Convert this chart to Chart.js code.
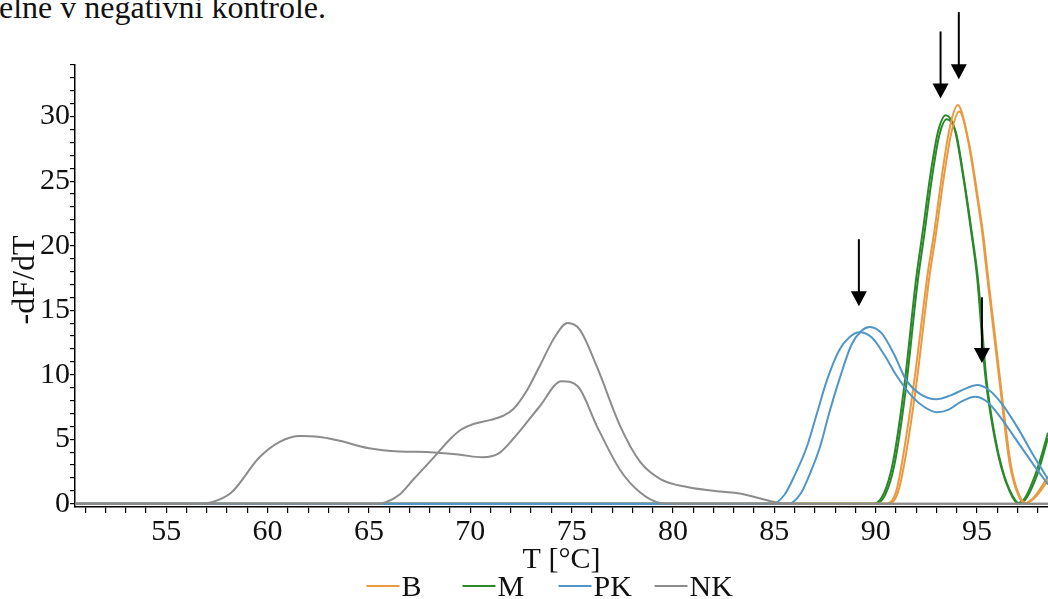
<!DOCTYPE html>
<html>
<head>
<meta charset="utf-8">
<script src="https://cdn.jsdelivr.net/npm/chart.js@4/dist/chart.umd.min.js"></script>
<style>
  html, body { margin: 0; padding: 0; background: #fff; }
  #wrap { position: relative; width: 1048px; height: 599px; overflow: hidden; }
  #caption {
    position: absolute; left: -1px; top: -9px;
    font-family: "Liberation Serif", serif; font-size: 32px; line-height: 32px;
    color: #111; white-space: nowrap;
  }
  #meltChart { position: absolute; left: 0; top: 0; }
</style>
</head>
<body>
<div id="wrap">
  <div id="caption">elne v negativni kontrole.</div>
  <canvas id="meltChart" width="1048" height="599"></canvas>
</div>
<script>
// melting curves, -dF/dT against temperature, two replicates per sample
var seriesNames = ["B", "M", "PK", "NK"];
var seriesColors = ["#e9993f", "#2a8a2a", "#5096c8", "#8c8c8c"];

var b1T = [50.5, 90.55, 91.0, 91.3, 91.9, 92.57, 92.9, 93.3, 93.66, 94.05, 94.55, 95.0, 95.24, 95.5, 96.1, 96.6, 97.0, 97.35, 97.8, 98.5];
var b1  = [0, 0, 0.9, 3.2, 9.5, 17.9, 21.2, 25.8, 29.2, 30.9, 28.2, 23.8, 21.2, 17.6, 9.6, 3.2, 0.8, 0.05, 0.5, 2.1];
var b2T = [50.5, 90.65, 91.08, 91.4, 92.0, 92.65, 92.98, 93.38, 93.74, 94.12, 94.62, 95.07, 95.31, 95.57, 96.17, 96.67, 97.07, 97.42, 97.87, 98.5];
var b2  = [0, 0, 0.8, 3.0, 9.2, 17.6, 21.0, 25.5, 28.8, 30.4, 27.8, 23.4, 20.8, 17.2, 9.2, 3.0, 0.7, 0.05, 0.5, 1.8];

var m1T = [50.5, 89.9, 90.4, 90.85, 91.4, 92.0, 92.33, 92.7, 93.07, 93.46, 93.9, 94.3, 94.7, 95.0, 95.4, 95.8, 96.2, 96.6, 97.0, 97.3, 97.95, 98.5];
var m1  = [0, 0, 0.8, 3.2, 9.0, 17.5, 21.2, 25.5, 28.8, 30.1, 29.0, 25.5, 21.2, 17.6, 10.0, 5.7, 2.8, 1.0, 0.05, 0.3, 2.6, 5.5];
var m2T = [50.5, 89.97, 90.47, 90.92, 91.47, 92.07, 92.4, 92.77, 93.13, 93.5, 93.95, 94.35, 94.76, 95.06, 95.46, 95.86, 96.26, 96.66, 97.07, 97.37, 98.0, 98.5];
var m2  = [0, 0, 0.7, 3.0, 8.7, 17.2, 20.9, 25.2, 28.5, 29.8, 28.8, 25.2, 20.8, 17.2, 9.7, 5.4, 2.6, 0.9, 0.05, 0.3, 2.4, 5.1];

var pk1T = [50.5, 84.9, 85.5, 86.0, 86.6, 87.1, 87.6, 88.2, 88.7, 89.2, 89.8, 90.4, 91.0, 91.8, 92.4, 93.0, 93.6, 94.2, 94.9, 95.5, 96.2, 97.0, 97.8, 98.5];
var pk1  = [0, 0, 0.7, 2.2, 4.4, 7.0, 9.6, 11.9, 12.9, 13.3, 12.9, 11.6, 10.0, 8.3, 7.5, 7.1, 7.3, 7.9, 8.3, 7.9, 6.6, 4.8, 3.0, 1.5];
var pk2T = [50.5, 85.7, 86.3, 86.8, 87.25, 87.7, 88.2, 88.8, 89.3, 89.7, 90.3, 90.9, 91.5, 92.2, 93.0, 93.7, 94.4, 95.0, 95.6, 96.2, 97.0, 97.8, 98.5];
var pk2  = [0, 0, 0.8, 2.5, 4.4, 7.0, 9.6, 12.3, 13.4, 13.7, 13.2, 11.6, 9.6, 8.5, 8.1, 8.4, 8.9, 9.2, 8.8, 7.8, 5.9, 3.7, 1.9];

var nk1T = [50.5, 56.5, 57.2, 58.2, 59.6, 60.6, 61.6, 62.5, 63.5, 65.0, 66.5, 68.0, 69.5, 70.6, 71.4, 72.1, 73.4, 74.5, 75.3, 76.25, 77.4, 78.4, 79.4, 80.0, 98.5];
var nk1  = [0, 0, 0.1, 0.85, 3.6, 4.8, 5.25, 5.2, 4.9, 4.3, 4.05, 4.0, 3.8, 3.6, 3.9, 5.0, 7.5, 9.5, 9.1, 6.0, 2.6, 0.85, 0.05, 0, 0];
var nk2T = [50.5, 65.3, 65.8, 66.5, 67.2, 68.2, 69.0, 69.5, 70.2, 71.0, 71.6, 72.1, 72.8, 73.4, 74.2, 74.8, 75.4, 76.25, 77.4, 78.4, 79.4, 80.7, 82.3, 83.3, 84.95, 85.5, 98.5];
var nk2  = [0, 0, 0.1, 0.7, 1.9, 3.6, 5.0, 5.7, 6.2, 6.5, 6.8, 7.3, 8.8, 10.6, 13.0, 14.0, 13.5, 10.6, 6.0, 3.2, 1.9, 1.3, 0.95, 0.8, 0.15, 0, 0];

// peak markers: temperature, arrow top and arrow tip in -dF/dT units
var arrowT   = [89.17, 93.2, 94.1, 95.24];
var arrowTop = [20.5, 36.6, 38.1, 16.0];
var arrowTip = [15.3, 31.4, 32.9, 10.9];

function pts(ts, vs) {
  return ts.map(function (t, i) { return { x: t, y: vs[i] }; });
}

function curve(ts, vs, idx) {
  return {
    label: seriesNames[idx],
    data: pts(ts, vs),
    borderColor: seriesColors[idx],
    borderWidth: 2,
    pointRadius: 0,
    fill: false,
    cubicInterpolationMode: "monotone"
  };
}

var serif = "'Liberation Serif', 'Times New Roman', serif";

// arrows pointing at the melting peaks
var arrowPlugin = {
  id: "peakArrows",
  afterDatasetsDraw: function (chart) {
    var ctx = chart.ctx, xs = chart.scales.x, ys = chart.scales.y;
    ctx.save();
    ctx.strokeStyle = "#000";
    ctx.fillStyle = "#000";
    ctx.lineWidth = 2;
    for (var i = 0; i < arrowT.length; i++) {
      var px = xs.getPixelForValue(arrowT[i]);
      var top = ys.getPixelForValue(arrowTop[i]);
      var tip = ys.getPixelForValue(arrowTip[i]);
      ctx.beginPath();
      ctx.moveTo(px, top);
      ctx.lineTo(px, tip - 12);
      ctx.stroke();
      ctx.beginPath();
      ctx.moveTo(px - 8, tip - 15);
      ctx.lineTo(px + 8, tip - 15);
      ctx.lineTo(px, tip);
      ctx.closePath();
      ctx.fill();
    }
    ctx.restore();
  }
};

// y title sits over the tick labels, legend is a row of line samples under the x title
var textPlugin = {
  id: "extraText",
  afterDraw: function (chart) {
    var ctx = chart.ctx, area = chart.chartArea;
    ctx.save();
    ctx.fillStyle = "#111";
    ctx.font = "32px " + serif;
    ctx.translate(26, 280);
    ctx.rotate(-Math.PI / 2);
    ctx.textAlign = "center";
    ctx.textBaseline = "middle";
    ctx.fillText("-dF/dT", 0, 0);
    ctx.restore();

    ctx.save();
    ctx.font = "30px " + serif;
    ctx.textBaseline = "middle";
    var cx = (area.left + area.right) / 2;
    var x0 = cx - 195;
    var y = 587;
    for (var i = 0; i < seriesNames.length; i++) {
      var x = x0 + i * 96;
      ctx.strokeStyle = seriesColors[i];
      ctx.lineWidth = 2;
      ctx.beginPath();
      ctx.moveTo(x, y - 1);
      ctx.lineTo(x + 33, y - 1);
      ctx.stroke();
      ctx.fillStyle = "#111";
      ctx.fillText(seriesNames[i], x + 35, y + 1);
    }
    ctx.restore();
  }
};

// one tick per whole unit between the axis limits
function intTicks(scale) {
  var ticks = [];
  for (var v = Math.ceil(scale.min); v <= Math.floor(scale.max); v++) {
    ticks.push({ value: v });
  }
  scale.ticks = ticks;
}

function everyFifth(v) {
  return v % 5 === 0 ? String(v) : "";
}

new Chart(document.getElementById("meltChart"), {
  type: "line",
  data: {
    datasets: [
      curve(nk1T, nk1, 3), curve(nk2T, nk2, 3),
      curve(pk1T, pk1, 2), curve(pk2T, pk2, 2),
      curve(b1T, b1, 0), curve(b2T, b2, 0),
      curve(m1T, m1, 1), curve(m2T, m2, 1)
    ]
  },
  options: {
    responsive: false,
    animation: false,
    layout: { padding: { top: 65, right: 0, left: 0, bottom: 0 } },
    plugins: { legend: { display: false }, tooltip: { enabled: false } },
    scales: {
      x: {
        type: "linear",
        min: 50.5,
        max: 98.5,
        afterBuildTicks: intTicks,
        afterFit: function (s) { s.height = 92; },
        ticks: {
          autoSkip: false,
          maxRotation: 0,
          padding: 1,
          color: "#111",
          font: { family: serif, size: 30 },
          callback: everyFifth
        },
        grid: { drawOnChartArea: false, drawTicks: true, tickLength: 6, color: "#000", lineWidth: 1.2 },
        border: { display: true, color: "#000", width: 1.5 },
        title: {
          display: true,
          text: "T [°C]",
          color: "#111",
          font: { family: serif, size: 30 },
          padding: { top: 0, bottom: 21 }
        }
      },
      y: {
        min: -0.25,
        max: 34,
        afterBuildTicks: intTicks,
        afterFit: function (s) { s.width = 75; },
        ticks: {
          autoSkip: false,
          padding: 0,
          color: "#111",
          font: { family: serif, size: 30 },
          callback: everyFifth
        },
        grid: { drawOnChartArea: false, drawTicks: true, tickLength: 5, color: "#000", lineWidth: 1.2 },
        border: { display: true, color: "#000", width: 1.5 }
      }
    }
  },
  plugins: [arrowPlugin, textPlugin]
});
</script>
</body>
</html>
